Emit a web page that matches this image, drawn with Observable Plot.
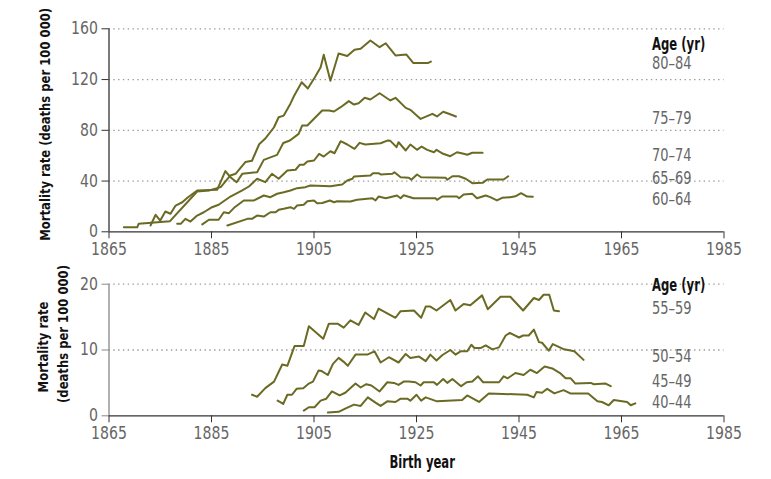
<!DOCTYPE html>
<html>
<head>
<meta charset="utf-8">
<script src="https://cdn.jsdelivr.net/npm/d3@7"></script>
<script src="https://cdn.jsdelivr.net/npm/@observablehq/plot@0.6"></script>
<style>
  html, body { margin: 0; padding: 0; background: #fff; }
  #chart { position: relative; width: 771px; height: 479px; overflow: hidden; }
  #topPanel, #bottomPanel { position: absolute; left: 0; }
  #topPanel { top: 0; }
  #bottomPanel { top: 262px; }
  svg { overflow: visible; }
</style>
</head>
<body>
<div id="chart"><div id="topPanel"></div><div id="bottomPanel"></div></div>
<script>
// ---------- DATA (birth year, mortality rate per 100 000) ----------
const xTicks = [1865, 1885, 1905, 1925, 1945, 1965, 1985];
const yTicksTop = [0, 40, 80, 120, 160];
const yTicksBottom = [0, 10, 20];
const agesTop = ["80–84", "75–79", "70–74", "65–69", "60–64"];
const agesBottom = ["55–59", "50–54", "45–49", "40–44"];

const age80_84 = [[1867.9,3.5],[1870.5,3.5],[1870.8,6.4],[1876.9,8.4],[1882.2,31.8],[1884.5,32.5],[1886.8,35.2],[1888.7,44.4],[1889.7,45.7],[1891.6,55],[1892.9,56],[1894.3,69],[1895.6,74],[1897.2,82.4],[1898.1,90.3],[1899.1,91.6],[1900.4,101],[1901.1,107],[1902.6,117.9],[1903.8,113],[1905.2,122],[1906.3,129.7],[1906.9,139.5],[1908.2,119],[1909.8,140.5],[1911.5,138.5],[1912.9,143.5],[1914.1,144.2],[1916,150.8],[1917.8,145.5],[1919,148.6],[1920.9,139],[1923,139.8],[1924.4,133],[1927.2,133],[1927.8,134.2]];
const age75_79 = [[1873.1,5],[1874.1,13.4],[1875,8.9],[1876,16],[1877,14.2],[1878,20.7],[1879.3,23.3],[1880.3,26.8],[1882.2,32.6],[1886.1,33.1],[1887.7,47.8],[1888.7,43],[1889.9,39.1],[1891,45.7],[1893.9,47],[1895.2,56.7],[1897.8,60.6],[1899,70],[1900.3,72],[1902,77.2],[1902.7,83.8],[1903.7,83.8],[1906.6,95.6],[1907.9,95.6],[1908.9,94.8],[1910.2,98.2],[1911.8,103],[1912.8,100.3],[1913.7,101.3],[1914.9,105.6],[1916,104.3],[1917.8,109.2],[1919.9,103.5],[1920.9,105.6],[1922.9,97.7],[1923.8,96.1],[1925.8,89],[1928.1,93],[1929,90.9],[1930.2,94.6],[1931.3,93],[1932.7,90.9]];
const age70_74 = [[1878.3,6.3],[1879,6.3],[1879.9,10.2],[1880.9,8.1],[1882.2,12.8],[1883.5,15.4],[1885.1,19.4],[1886.4,21.3],[1888.7,27.8],[1891,32.6],[1892.3,35.7],[1893.9,41.8],[1895.5,39.1],[1896.8,45.7],[1898.1,41.8],[1899.8,48.3],[1901.4,48.9],[1902.2,52.8],[1903,52.8],[1903.7,55.4],[1905,56.2],[1906,61.5],[1906.9,59.3],[1908.2,63.5],[1909,61.9],[1910.2,71.4],[1911.5,68.8],[1912.9,65.4],[1913.9,70.1],[1915,68.8],[1918,69.8],[1919.3,71.9],[1919.9,71.7],[1921.1,66.7],[1921.5,70.6],[1922.9,64.1],[1923.8,68.8],[1925.1,64.6],[1926,67.2],[1927.1,64.6],[1928.4,62.7],[1928.9,64.6],[1930.2,61.5],[1931.6,59.6],[1932.9,62.7],[1934.2,61.5],[1934.9,60.7],[1935.9,62.3],[1937.9,62.3]];
const age65_69 = [[1883.2,5.8],[1884.5,9.5],[1886.4,9.5],[1887.4,15.4],[1888.4,14.7],[1889.4,18.9],[1891.3,24.7],[1893.3,24.7],[1895.2,28.6],[1896.5,27.3],[1897.8,30],[1899.1,31.2],[1900.4,32.6],[1901.7,34.4],[1903.3,35.2],[1904.3,36.5],[1908.2,35.9],[1910.5,37.3],[1911.5,40.4],[1912.5,41.8],[1912.8,43.6],[1916,44.4],[1916.5,46.2],[1917.6,46.2],[1918,45.2],[1920.3,45.7],[1920.7,47],[1921.9,43],[1923.5,42.6],[1924,41],[1925.1,45.2],[1925.9,43],[1930.7,42.6],[1931,41],[1932,43.8],[1933.3,43.8],[1934.6,41.8],[1935.9,38.3],[1937.9,38.6],[1938.8,41.2],[1942,41.2],[1942.9,43.8]];
const age60_64 = [[1888.1,5],[1892,10.2],[1892.9,10.2],[1893.9,12.8],[1895.2,12],[1896.5,15.4],[1897.5,15.4],[1898.1,17.3],[1899.1,18.1],[1900.4,19.4],[1901.1,18.1],[1901.7,20.7],[1903,21.3],[1903.7,24.1],[1905,24.7],[1905.6,22.5],[1906.6,22.7],[1908.1,24.7],[1908.9,23.3],[1909.5,24.1],[1912.1,23.9],[1913.4,25.2],[1916.4,26.5],[1917,24.7],[1917.6,27.8],[1919,26.5],[1921.2,28.6],[1921.9,26.5],[1922.5,28.8],[1924.4,26.5],[1928.7,26.5],[1929,25.2],[1930,27.8],[1932.9,27.8],[1933.3,26.5],[1934.2,29.4],[1935.9,29.9],[1936.8,26.4],[1938.5,28.6],[1939.4,27.3],[1940.7,24.7],[1941.7,26.8],[1943.3,27.3],[1944.3,28],[1945.4,30.4],[1946.6,27.8],[1947.7,27.6]];

const age55_59 = [[1892.9,3.2],[1893.9,2.9],[1895.5,4.2],[1897.2,5.2],[1898.8,7.8],[1899.8,7.6],[1901.2,10.6],[1903,10.6],[1904,13.6],[1906.8,11.7],[1907.9,14],[1909.6,14],[1910.8,13.4],[1912.1,14.5],[1913.7,13.8],[1915,15.7],[1916.7,14.7],[1917.6,16.3],[1920.9,14.9],[1921.9,15.9],[1924.5,16],[1925.9,14.9],[1926.8,16.6],[1927.7,16.6],[1928.9,16],[1931.6,17.6],[1932.6,16],[1934.2,17],[1935.5,16.8],[1937.8,18.3],[1938.9,16.2],[1941.4,18.1],[1943.3,18.1],[1945.8,16],[1947.9,17.9],[1948.9,17.6],[1949.8,18.4],[1950.9,18.4],[1951.8,16],[1952.8,15.9]];
const age50_54 = [[1897.9,2.3],[1899,1.8],[1899.8,3.2],[1900.7,3.2],[1901.6,4.1],[1902.9,4.2],[1904,4.9],[1904.8,5.2],[1905.9,6.9],[1906.5,6.8],[1907.7,6.2],[1908.7,7.9],[1909.8,8.8],[1910.8,8.2],[1911.6,7.6],[1913.1,9.3],[1915.4,9.3],[1916.8,9.8],[1918,8.1],[1919.6,8.9],[1921.5,8.1],[1922.9,9.4],[1923.8,8.8],[1925.5,9],[1926.8,8.3],[1927.7,9.3],[1928.9,8.4],[1930,9.2],[1931.6,10],[1932.6,9.3],[1933.6,9.8],[1934.9,9.8],[1935.7,10.8],[1936.3,10.3],[1937.5,10.3],[1938.5,10.7],[1939.8,10.1],[1941.1,10.4],[1942.4,12.2],[1943.2,12.6],[1945,11.9],[1945.8,12.2],[1946.9,12.2],[1947.9,13.1],[1948.9,11.2],[1949.5,11.1],[1950.8,9.9],[1951.6,10.9],[1953.8,10.1],[1955.8,9.8],[1957.6,8.5]];
const age45_49 = [[1903,0.8],[1904,1.3],[1905.1,1.3],[1906.3,2.3],[1907.4,2.6],[1908.5,3.7],[1910,3.1],[1911.1,3.5],[1913.1,4.9],[1914.1,4.3],[1915.2,4.8],[1916.2,4.6],[1917.8,3.7],[1919.3,5.1],[1920.6,5],[1921.5,4.7],[1922.5,5.2],[1923.5,5.2],[1924.8,5.1],[1925.8,4.6],[1926.4,5.1],[1928.4,5.1],[1929,4.7],[1930.2,5.6],[1931,5],[1932,5.6],[1933.7,4.5],[1934.8,5.1],[1935.9,5.2],[1937,6],[1938,5.1],[1941.1,5.1],[1942,6],[1942.8,5.7],[1944.3,6.5],[1945.9,6.2],[1947.2,7],[1948.5,6.5],[1950,7.5],[1951.5,7.2],[1953,6.5],[1954.1,5.7],[1955.1,5.7],[1956,4.9],[1959,5],[1959.6,4.8],[1961.9,4.9],[1962.9,4.5]];
const age40_44 = [[1907.7,0.5],[1909.8,0.6],[1911.1,1.1],[1912.8,1.7],[1914.1,1.5],[1915.5,2.8],[1917,2],[1918,1.5],[1919.3,2.2],[1920.9,2.1],[1921.9,2.6],[1923.2,2.6],[1923.8,2.3],[1925,3.2],[1925.9,2.3],[1926.8,2.8],[1929,2.2],[1933.9,2.4],[1934.9,3.1],[1935.6,2.8],[1937.2,2.1],[1939.1,3.4],[1946.6,3.2],[1947.9,2.8],[1948.4,3.6],[1949.5,3.5],[1950.5,4.1],[1951.9,3.4],[1953.7,3.9],[1955,3.4],[1958.5,3.4],[1960.3,2.2],[1961.2,2.1],[1962.5,1.6],[1963.5,2.4],[1966.1,2.1],[1966.8,1.6],[1967.7,1.9]];

// ---------- DRAWING ----------
const FONT = '"DejaVu Sans Condensed", "DejaVu Sans", sans-serif';
const LINE = "#6b6a24";

// end-of-series label anchors, pushed apart symmetrically when closer than minGap (data units)
function labelAnchors(series, names, minGap) {
  const labels = series.map((s, i) => ({value: s[s.length - 1][1], age: names[i]}));
  labels.sort((a, b) => b.value - a.value);
  for (let iter = 0; iter < 20; ++iter) {
    for (let i = 1; i < labels.length; ++i) {
      const gap = labels[i - 1].value - labels[i].value;
      if (gap < minGap) {
        const d = (minGap - gap) / 2;
        labels[i - 1].value += d;
        labels[i].value -= d;
      }
    }
  }
  return labels;
}

function panel({series, names, yDomain, yTicks, height, marginTop, marginBottom, yAxisColor, headerDy, labelDy, titleMarks}) {
  const data = series.flatMap((s, i) => s.map(([year, value]) => ({year, value, age: names[i]})));
  const plotH = height - marginTop - marginBottom;
  const ends = labelAnchors(series, names, 21 * (yDomain[1] - yDomain[0]) / plotH);
  return Plot.plot({
    width: 771, height,
    marginLeft: 108.5, marginRight: 47.5, marginTop, marginBottom,
    style: {fontFamily: FONT, fontSize: "17px", color: "#666", background: "transparent", overflow: "visible"},
    x: {domain: [1865, 1985]},
    y: {domain: yDomain},
    marks: [
      Plot.gridY(yTicks.slice(1), {stroke: "#9a9a9a", strokeOpacity: 1, strokeDasharray: "1.4,3.4", strokeWidth: 1.3}),
      Plot.ruleX([1865], {stroke: yAxisColor, strokeWidth: 1.3}),
      Plot.ruleY([0], {stroke: "#333", strokeWidth: 1.3}),
      Plot.axisX(xTicks, {tickSize: 7, tickPadding: 4, tickFormat: d => String(d), stroke: "#333", fill: "#666", label: null}),
      Plot.axisY(yTicks, {tickSize: 7, tickPadding: 4, stroke: yAxisColor, fill: "#666", label: null}),
      Plot.line(data, {x: "year", y: "value", z: "age", stroke: LINE, strokeWidth: 2, curve: "linear"}),
      Plot.text(ends, {y: "value", text: "age", frameAnchor: "right", dx: -72, dy: labelDy, textAnchor: "start", fill: "#666", fontSize: 17}),
      Plot.text(["Age (yr)"], {frameAnchor: "top-right", dx: -72, dy: headerDy, textAnchor: "start", lineAnchor: "middle", fill: "#111", fontWeight: "bold", fontSize: 17}),
      ...titleMarks
    ]
  });
}

// narrow the rendered glyphs to mimic the condensed typeface of the original
function condense(svg) {
  for (const t of svg.querySelectorAll("text")) {
    const isTick = !!t.closest('[aria-label$="tick label"]');
    const holder = t.closest("[font-weight]") || t;
    const isBold = holder.getAttribute("font-weight") === "bold";
    const size = parseFloat((t.closest("[font-size]") || t).getAttribute("font-size")) || 17;
    const f = isTick ? 0.92 : isBold ? Math.min(1, 0.76 * 17 / size) : 0.85;
    const len = t.getComputedTextLength();
    if (len > 0 && f < 1) {
      t.setAttribute("textLength", (len * f).toFixed(1));
      t.setAttribute("lengthAdjust", "spacingAndGlyphs");
    }
  }
}

const boldText = {fill: "#111", fontWeight: "bold", fontSize: 17, textAnchor: "middle", lineAnchor: "middle"};
const titleText = {...boldText, fontSize: 13.5};

const topChart = panel({
  series: [age80_84, age75_79, age70_74, age65_69, age60_64],
  names: agesTop,
  yDomain: [0, 160], yTicks: yTicksTop,
  height: 262, marginTop: 28.3, marginBottom: 30.7,
  yAxisColor: "#333", headerDy: 15.7, labelDy: 2.5,
  titleMarks: [
    Plot.text(["Mortality rate (deaths per 100 000)"], {...titleText, frameAnchor: "left", rotate: -90, dx: -63.5, dy: -6})
  ]
});
document.getElementById("topPanel").append(topChart);
condense(topChart);

const bottomChart = panel({
  series: [age55_59, age50_54, age45_49, age40_44],
  names: agesBottom,
  yDomain: [0, 20], yTicks: yTicksBottom,
  height: 217, marginTop: 21.7, marginBottom: 63.7,
  yAxisColor: "#888", headerDy: 1.3, labelDy: -3,
  titleMarks: [
    Plot.text(["Mortality rate"], {...titleText, frameAnchor: "left", rotate: -90, dx: -65, dy: -3}),
    Plot.text(["(deaths per 100 000)"], {...titleText, frameAnchor: "left", rotate: -90, dx: -45, dy: -16}),
    Plot.text(["Birth year"], {...boldText, frameAnchor: "bottom", dx: 5.7, dy: 46.4})
  ]
});
document.getElementById("bottomPanel").append(bottomChart);
condense(bottomChart);
</script>
</body>
</html>
